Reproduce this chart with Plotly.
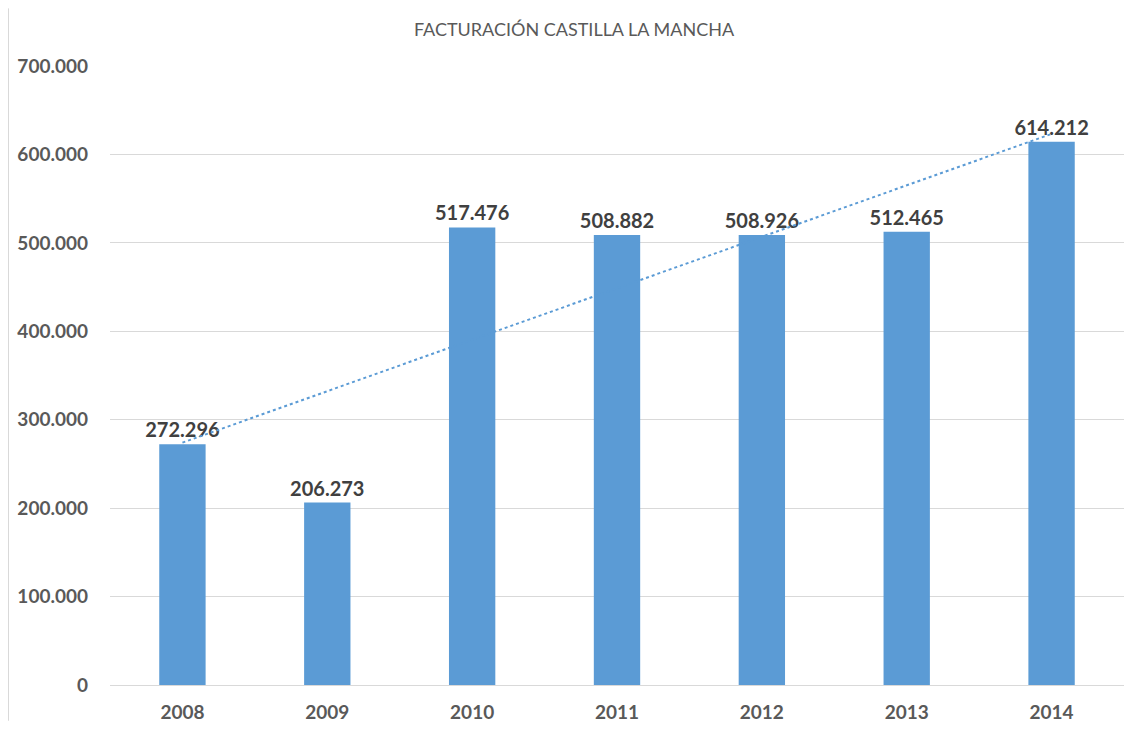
import numpy as np
import plotly.graph_objects as go

years = ["2008", "2009", "2010", "2011", "2012", "2013", "2014"]
values = [272296, 206273, 517476, 508882, 508926, 512465, 614212]
y_ticks = [0, 100000, 200000, 300000, 400000, 500000, 600000, 700000]
title = "FACTURACIÓN CASTILLA LA MANCHA"

# page has an 8px body margin, so the figure is sized to fit inside it
W, H = 1118, 717
L, R, T, B = 102, 2, 58, 36

# Excel-style linear trendline fitted to the series
xi = np.arange(len(values))
slope, intercept = np.polyfit(xi, values, 1)
trend = [intercept + slope * i for i in xi]

bar_color = "#5B9BD5"
fnt = "Lato, 'Open Sans', sans-serif"
pw = W - L - R
ph = H - T - B

fig = go.Figure()
fig.add_trace(go.Scatter(
    x=years, y=trend, mode="lines",
    line=dict(color=bar_color, width=2, dash="dot"),
    hoverinfo="skip", showlegend=False,
))
fig.add_trace(go.Bar(
    x=years, y=values, marker=dict(color=bar_color, line=dict(width=0)),
    text=values, texttemplate="<b>%{y:,d}</b>", textposition="outside",
    constraintext="none",
    textfont=dict(family=fnt, size=20, color="#404040"),
    cliponaxis=False, showlegend=False,
))

fig.update_layout(
    width=W, height=H,
    margin=dict(l=L, r=R, t=T, b=B),
    paper_bgcolor="white", plot_bgcolor="white",
    separators=",.",
    bargap=0.68,
    title=dict(text=title, x=(566 - L) / pw, xref="paper", xanchor="center",
               y=1 - 22 / H, yanchor="middle",
               font=dict(family=fnt, size=18, color="#595959")),
    font=dict(family=fnt, color="#595959"),
    xaxis=dict(showgrid=False, showline=False, ticks="",
               tickfont=dict(family=fnt, size=19, color="#595959", weight="bold"),
               ticklabelstandoff=14),
    yaxis=dict(range=[0, 700000], tickvals=y_ticks, tickformat=",d",
               showgrid=True, gridcolor="#D9D9D9", gridwidth=1,
               zeroline=True, zerolinecolor="#D9D9D9", zerolinewidth=1,
               showline=False, ticks="",
               tickfont=dict(family=fnt, size=19, color="#595959", weight="bold"),
               ticklabelstandoff=21),
    shapes=[dict(type="line", xref="paper", yref="paper",
                 x0=(0.5 - L) / pw, x1=(0.5 - L) / pw,
                 y0=-B / ph, y1=1 + T / ph,
                 line=dict(color="#D9D9D9", width=1))],
)

fig.write_html("out.html")
